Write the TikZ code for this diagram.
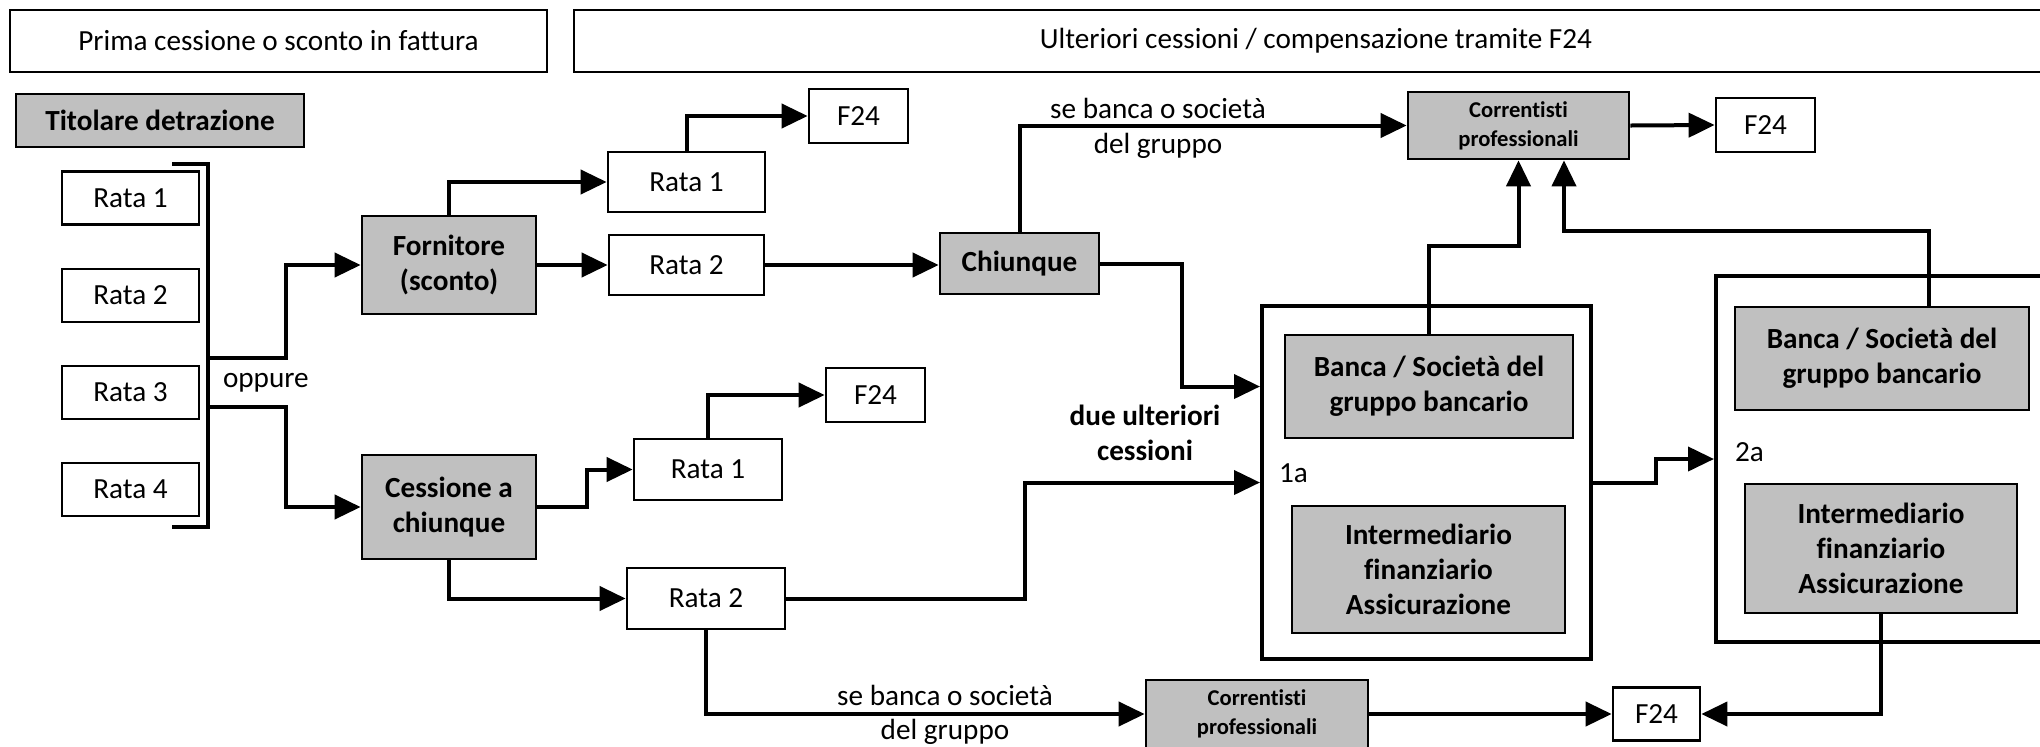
\documentclass[tikz,border=0pt]{standalone}
\usepackage{fontspec}
\setmainfont{Carlito}[Ligatures=NoCommon]
\usetikzlibrary{arrows.meta,calc}

\definecolor{boxgray}{RGB}{192,192,192}
\newcommand{\txtsize}{\fontsize{14.6}{17.5}\selectfont}
\tikzset{every picture/.style={line width=1pt},
  rbox/.style={draw,line width=1.35pt,fill=white,inner sep=0pt,align=center},
  gbox/.style={rbox,fill=boxgray,font=\txtsize\bfseries},
  cbox/.style={rbox,fill=boxgray,font=\fontsize{11.3}{14.5}\selectfont\bfseries},
  frame/.style={draw,line width=2pt,inner sep=0pt},
  arr/.style={line width=2pt,-{Triangle[length=13pt,width=12pt]}},
  lbl/.style={inner sep=0pt,align=center}}

\begin{document}
\begin{tikzpicture}[x=0.5pt,y=0.5pt,yscale=-1,font=\txtsize]
\path[use as bounding box] (0,0) rectangle (2040,746);
\clip (0,0) rectangle (2040,746);

% headers
\node[rbox,minimum width=268.5pt,minimum height=31pt] (hdrA) at (278.5,41) {Prima cessione o sconto in fattura};
\node[rbox,minimum width=742pt,minimum height=31pt] (hdrB) at (1316,41) {Ulteriori cessioni / compensazione tramite F24};

% titolare and rate
\node[gbox,minimum width=144pt,minimum height=26.5pt] (titolare) at (160,120.5) {Titolare detrazione};
\node[rbox,minimum width=68.5pt,minimum height=26.5pt] (rata1) at (130.5,198) {Rata 1};
\node[rbox,minimum width=68.5pt,minimum height=26.5pt] (rata2) at (130.5,295.5) {Rata 2};
\node[rbox,minimum width=68.5pt,minimum height=26.5pt] (rata3) at (130.5,392.5) {Rata 3};
\node[rbox,minimum width=68.5pt,minimum height=26.5pt] (rata4) at (130.5,489.5) {Rata 4};

% bracket
\draw[line width=2pt] (172,164) -- (208,164) -- (208,527) -- (172,527);
\coordinate (brA) at (208,358);
\coordinate (brB) at (208,407);
\node[lbl,anchor=west] (oppure) at (222,383) {oppure};

% first transfer
\node[gbox,minimum width=87pt,minimum height=49pt] (fornitore) at (449,265) {Fornitore\\(sconto)};
\node[gbox,minimum width=87pt,minimum height=52pt] (cessione) at (449,507) {Cessione a\\chiunque};
\node[rbox,minimum width=78.5pt,minimum height=30pt] (rataFa) at (686.5,182) {Rata 1};
\node[rbox,minimum width=77.5pt,minimum height=30pt] (rataFb) at (686.5,265) {Rata 2};
\node[rbox,minimum width=74pt,minimum height=30.5pt] (rataCa) at (708,469.5) {Rata 1};
\node[rbox,minimum width=79pt,minimum height=30.5pt] (rataCb) at (706,598.5) {Rata 2};
\node[rbox,minimum width=49.5pt,minimum height=27pt] (f24a) at (858.5,116) {F24};
\node[rbox,minimum width=49.5pt,minimum height=27pt] (f24c) at (875.5,395) {F24};

% further transfers
\node[gbox,minimum width=79.5pt,minimum height=30.5pt] (chiunque) at (1019.5,263.5) {Chiunque};
\node[cbox,minimum width=110.5pt,minimum height=33.5pt] (corrA) at (1518.5,125.5) {Correntisti\\professionali};
\node[rbox,minimum width=49.5pt,minimum height=27pt] (f24b) at (1765.5,125) {F24};
\node[cbox,minimum width=111pt,minimum height=34pt] (corrB) at (1257,714) {Correntisti\\professionali};
\node[rbox,minimum width=43.5pt,minimum height=26.5pt] (f24d) at (1656.5,714) {F24};

\node[frame,minimum width=164.5pt,minimum height=176.5pt] (box1a) at (1426.5,482.5) {};
\node[gbox,minimum width=144pt,minimum height=51.5pt] (banca1) at (1429,386.5) {Banca / Società del\\gruppo bancario};
\node[gbox,minimum width=136.5pt,minimum height=63.5pt] (interm1) at (1428.5,569.5) {Intermediario\\finanziario\\Assicurazione};
\node[lbl,anchor=west] (lab1a) at (1278,473) {1a};

\node[frame,minimum width=177pt,minimum height=183pt] (box2a) at (1893,459) {};
\node[gbox,minimum width=147pt,minimum height=51.5pt] (banca2) at (1882,358.5) {Banca / Società del\\gruppo bancario};
\node[gbox,minimum width=136pt,minimum height=64.5pt] (interm2) at (1881,548.5) {Intermediario\\finanziario\\Assicurazione};
\node[lbl,anchor=west] (lab2a) at (1734,452) {2a};

% labels
\node[lbl] (seA) at (1158,108) {se banca o società};
\node[lbl] (grA) at (1158,146) {del gruppo};
\node[lbl] (seB) at (945,695) {se banca o società};
\node[lbl] (grB) at (945,732) {del gruppo};
\node[lbl,font=\txtsize\bfseries] (due) at (1145,433) {due ulteriori\\cessioni};

% connectors
\draw[arr] (brA) -- ++(78,0) |- (fornitore.west);
\draw[arr] (brB) -- ++(78,0) |- (cessione.west);
\draw[arr] (fornitore.north) |- (rataFa.west);
\draw[arr] (fornitore.east) -- (rataFb.west);
\draw[arr] (rataFa.north) |- (f24a.west);
\draw[arr] (rataFb.east) -- (rataFb.east -| chiunque.west);
\draw[arr] (chiunque.north) |- (corrA.west);
\draw[arr] (corrA.east) -- (f24b.west);
\draw[arr] (chiunque.east) -- ++(82,0) |- (box1a.west |- banca1);
\draw[arr] (cessione.east) -- ++(50,0) |- (rataCa.west);
\draw[arr] (rataCa.north) |- (f24c.west);
\draw[arr] (cessione.south) |- (rataCb.west);
\draw[arr] (rataCb.east) -- ++(239,0) |- (box1a.west);
\draw[arr] (rataCb.south) |- (corrB.west);
\draw[arr] (corrB.east) -- (f24d.west);
\draw[arr] (interm2.south) |- (f24d.east);
\draw[arr] (banca1.north) -- ++(0,-88) -| (corrA.south);
\draw[arr] ($(banca2.north)+(47,0)$) -- ++(0,-75) -| ($(corrA.south)+(45.5,0)$);
\draw[arr] (box1a.east) -- ++(63,0) |- (box2a.west);

\end{tikzpicture}
\end{document}
